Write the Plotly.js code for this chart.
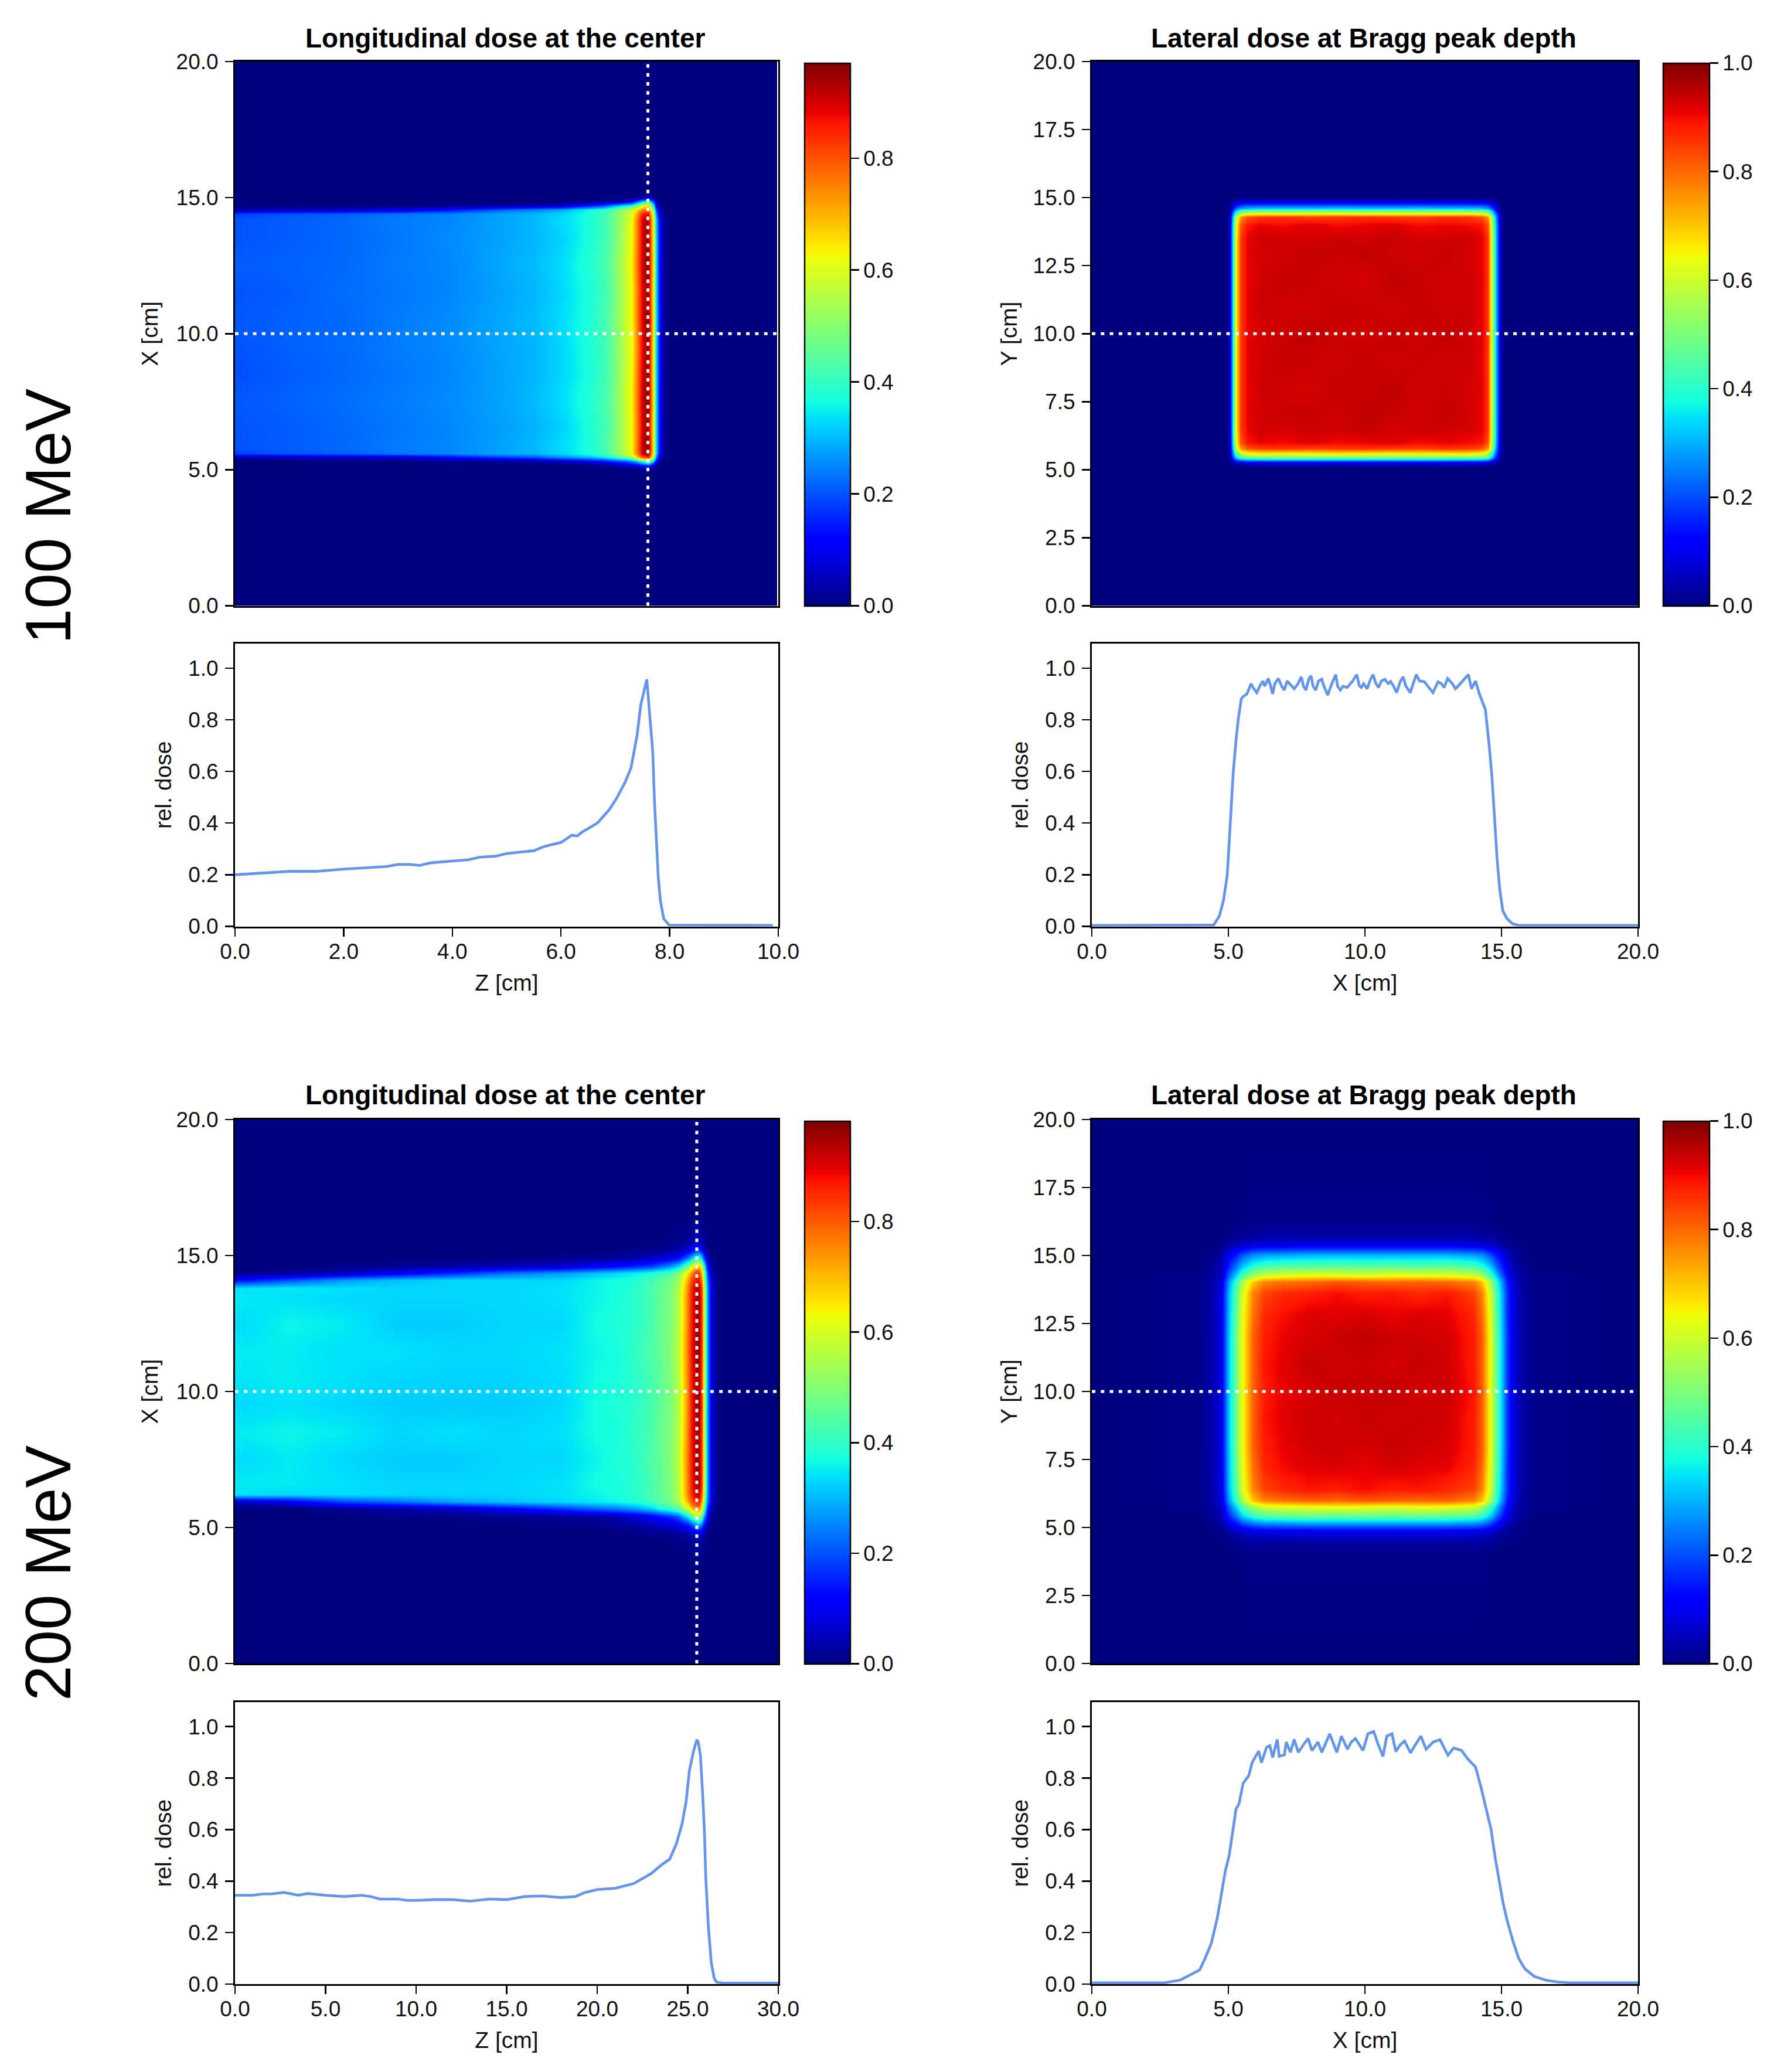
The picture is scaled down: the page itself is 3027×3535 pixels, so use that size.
<!DOCTYPE html>
<html><head><meta charset="utf-8"><script src="https://cdn.plot.ly/plotly-3.0.1.min.js"></script>
<style>html,body{margin:0;padding:0;background:#fff}</style></head><body><div id="g"></div>
<script>
// ---------- read-off data ----------
const energyLabels=['100 MeV','200 MeV'];
const titleLong='Longitudinal dose at the center', titleLat='Lateral dose at Bragg peak depth';
const peak100=7.6, peak200=25.5;

// longitudinal map, 100 MeV
const long100Z=[0,1,2,3,4,5,5.5,6,6.5,6.8,7,7.2,7.3,7.4,7.5,7.6,7.7,7.75,7.8,7.85,7.9,8,9.9,9.95];
const long100X=[0,4.8,5,5.15,5.3,5.45,5.6,5.8,6.5,7.5,8.5,9.5,10.5,11.5,12.5,13.5,14.2,14.4,14.55,14.7,14.85,15,15.2,20];
const long100Dose=[
[0,0,0,0,0,0,0,0,0,0,0,0,0,0,0,0,0,0,0,0,0,0,0,0],
[0,0,0,0,0,0,0,0,0,0,0,0,0,0,0,0,0,0,0,0,0,0,0,0],
[0,0,0,0,0,0,0,0,0,0,0,0,0,0,.01,.02,0,0,0,0,0,0,0,0],
[0,0,0,0,0,0,0,0,0,.02,.03,.06,.08,.09,.13,.18,.08,.02,0,0,0,0,0,0],
[0,0,0,0,.01,.02,.03,.05,.1,.13,.17,.2,.24,.3,.4,.5,.3,.12,.03,.01,0,0,0,0],
[.03,.05,.06,.07,.12,.18,.2,.25,.3,.34,.4,.47,.52,.68,.8,.85,.55,.28,.11,.05,.02,0,0,0],
[.18,.2,.21,.23,.25,.28,.29,.32,.37,.41,.48,.57,.63,.75,.9,.95,.62,.35,.15,.07,.02,0,0,0],
[.2,.21,.22,.24,.25,.28,.3,.33,.37,.42,.49,.57,.63,.76,.92,.96,.63,.36,.16,.07,.025,0,0,0],
[.2,.21,.22,.235,.25,.275,.29,.32,.37,.41,.48,.57,.63,.75,.9,.94,.62,.35,.16,.07,.025,0,0,0],
[.205,.215,.225,.24,.255,.28,.3,.33,.38,.42,.49,.58,.64,.76,.91,.96,.63,.36,.16,.07,.025,0,0,0],
[.195,.21,.22,.235,.25,.28,.295,.325,.37,.41,.48,.57,.63,.75,.9,.95,.62,.35,.16,.07,.025,0,0,0],
[.2,.213,.222,.24,.253,.282,.293,.325,.372,.41,.48,.57,.62,.74,.88,.955,.62,.35,.16,.07,.025,0,0,0],
[.205,.215,.22,.24,.255,.285,.3,.33,.375,.42,.49,.58,.63,.75,.9,.97,.63,.36,.17,.07,.025,0,0,0],
[.2,.21,.225,.235,.25,.28,.295,.325,.37,.41,.48,.57,.63,.75,.89,.94,.62,.35,.16,.07,.025,0,0,0],
[.21,.215,.22,.24,.25,.285,.3,.33,.38,.42,.49,.58,.64,.76,.91,.96,.63,.36,.16,.07,.025,0,0,0],
[.2,.21,.22,.235,.255,.28,.295,.32,.37,.41,.48,.57,.63,.75,.9,.95,.62,.35,.16,.07,.025,0,0,0],
[.2,.21,.22,.24,.25,.28,.3,.33,.37,.41,.48,.56,.62,.75,.9,.93,.6,.33,.14,.06,.02,0,0,0],
[.18,.2,.21,.23,.25,.28,.29,.32,.37,.41,.47,.56,.6,.72,.85,.88,.55,.28,.1,.04,.01,0,0,0],
[.03,.05,.06,.08,.14,.22,.25,.28,.36,.4,.46,.53,.57,.66,.75,.8,.48,.22,.06,.02,0,0,0,0],
[0,0,0,0,.01,.03,.04,.06,.15,.2,.29,.36,.4,.5,.6,.66,.35,.13,.03,.01,0,0,0,0],
[0,0,0,0,0,0,0,0,.01,.02,.03,.07,.1,.22,.33,.4,.2,.06,0,0,0,0,0,0],
[0,0,0,0,0,0,0,0,0,0,0,0,0,.01,.02,.05,.02,0,0,0,0,0,0,0],
[0,0,0,0,0,0,0,0,0,0,0,0,0,0,0,0,0,0,0,0,0,0,0,0],
[0,0,0,0,0,0,0,0,0,0,0,0,0,0,0,0,0,0,0,0,0,0,0,0]];

// lateral map, 100 MeV
const lat100X=[0,4.9,5,5.06,5.16,5.21,5.28,5.46,5.7,6.2,7,8,9,10,11,12,13,13.8,14.3,14.5,14.62,14.7,14.78,14.94,15,15.1,20];
const lat100Y=[0,5.1,5.26,5.37,5.46,5.58,5.78,6,6.5,7,8,9,10,11,12,13,13.5,14,14.29,14.4,14.5,14.6,14.83,14.95,15.05,20];
const lat100Dose=[
[0,0,0,0,0,0,0,0,0,0,0,0,0,0,0,0,0,0,0,0,0,0,0,0,0,0,0],
[0,0,0,0,0,0,0,0,0,0,0,0,0,0,0,0,0,0,0,0,0,0,0,0,0,0,0],
[0,0,0,.01,.03,.05,.065,.085,.09,.095,.095,.095,.095,.095,.095,.095,.095,.095,.09,.085,.065,.05,.03,.01,0,0,0],
[0,0,.01,.03,.11,.17,.22,.29,.32,.33,.33,.33,.34,.33,.33,.34,.33,.33,.32,.29,.22,.17,.11,.03,.01,0,0],
[0,0,.015,.05,.17,.27,.34,.45,.49,.5,.5,.51,.5,.5,.51,.5,.5,.5,.49,.45,.34,.27,.17,.05,.015,0,0],
[0,0,.02,.065,.22,.34,.44,.575,.63,.65,.64,.65,.66,.65,.64,.65,.65,.66,.63,.575,.44,.34,.22,.065,.02,0,0],
[0,0,.025,.085,.29,.45,.575,.75,.82,.85,.86,.84,.85,.86,.85,.84,.86,.85,.82,.75,.575,.45,.29,.085,.025,0,0],
[0,0,.03,.09,.32,.49,.63,.82,.89,.91,.9,.92,.9,.91,.92,.9,.91,.9,.89,.82,.63,.49,.32,.09,.03,0,0],
[0,0,.03,.095,.33,.5,.65,.85,.91,.93,.925,.935,.93,.94,.925,.935,.93,.925,.91,.85,.65,.5,.33,.095,.03,0,0],
[0,0,.03,.095,.33,.5,.65,.85,.915,.925,.935,.94,.93,.945,.935,.93,.94,.93,.91,.85,.65,.5,.33,.095,.03,0,0],
[0,0,.03,.095,.33,.5,.65,.85,.91,.935,.93,.925,.94,.935,.945,.93,.935,.925,.915,.85,.65,.5,.33,.095,.03,0,0],
[0,0,.03,.095,.33,.5,.65,.85,.915,.93,.94,.935,.93,.94,.93,.935,.93,.935,.91,.85,.65,.5,.33,.095,.03,0,0],
[0,0,.03,.095,.33,.5,.65,.85,.91,.925,.935,.945,.935,.93,.94,.93,.945,.93,.915,.85,.65,.5,.33,.095,.03,0,0],
[0,0,.03,.095,.33,.5,.65,.85,.915,.935,.93,.93,.94,.935,.93,.94,.93,.935,.91,.85,.65,.5,.33,.095,.03,0,0],
[0,0,.03,.095,.33,.5,.65,.85,.91,.93,.94,.935,.93,.925,.945,.935,.93,.93,.915,.85,.65,.5,.33,.095,.03,0,0],
[0,0,.03,.095,.33,.5,.65,.85,.915,.925,.93,.94,.935,.945,.93,.93,.94,.925,.91,.85,.65,.5,.33,.095,.03,0,0],
[0,0,.03,.095,.33,.5,.65,.85,.91,.935,.93,.925,.935,.93,.94,.925,.93,.935,.91,.85,.65,.5,.33,.095,.03,0,0],
[0,0,.03,.09,.32,.49,.63,.82,.89,.91,.9,.92,.9,.91,.92,.9,.91,.9,.89,.82,.63,.49,.32,.09,.03,0,0],
[0,0,.025,.085,.29,.45,.575,.75,.82,.85,.86,.84,.85,.86,.85,.84,.86,.85,.82,.75,.575,.45,.29,.085,.025,0,0],
[0,0,.02,.065,.22,.34,.44,.575,.63,.65,.64,.65,.66,.65,.64,.65,.65,.66,.63,.575,.44,.34,.22,.065,.02,0,0],
[0,0,.015,.05,.17,.27,.34,.45,.49,.5,.5,.51,.5,.5,.51,.5,.5,.5,.49,.45,.34,.27,.17,.05,.015,0,0],
[0,0,.01,.03,.11,.17,.22,.29,.32,.33,.33,.33,.34,.33,.33,.34,.33,.33,.32,.29,.22,.17,.11,.03,.01,0,0],
[0,0,0,.01,.03,.05,.065,.085,.09,.095,.095,.095,.095,.095,.095,.095,.095,.095,.09,.085,.065,.05,.03,.01,0,0,0],
[0,0,0,0,.005,.01,.015,.02,.025,.025,.025,.025,.025,.025,.025,.025,.025,.025,.025,.02,.015,.01,.005,0,0,0,0],
[0,0,0,0,0,0,0,0,0,0,0,0,0,0,0,0,0,0,0,0,0,0,0,0,0,0,0],
[0,0,0,0,0,0,0,0,0,0,0,0,0,0,0,0,0,0,0,0,0,0,0,0,0,0,0]];

// longitudinal map, 200 MeV
const long200Z=[0,3,6,9,12,15,18,20,21,22,23,23.5,24,24.5,25,25.2,25.4,25.6,25.75,25.9,26.1,26.3,26.6,27,30];
const long200X=[0,3.5,4.5,4.8,5.1,5.4,5.7,5.95,6.2,6.6,7.5,8.5,9.5,10.5,11.5,12.5,13.4,13.8,14.1,14.35,14.6,14.9,15.2,15.5,16.5,20];
const long200Dose=[
[0,0,0,0,0,0,0,0,0,0,0,0,0,0,0,0,0,0,0,0,0,0,0,0,0],
[0,0,0,0,0,0,0,0,0,0,0,0,0,0,0,0,0,0,0,0,0,0,0,0,0],
[0,0,0,0,0,0,0,0,0,0,0,0,0,.01,.01,.02,.03,.04,.025,.01,0,0,0,0,0],
[0,0,0,0,0,0,0,0,0,.01,.01,.02,.02,.03,.04,.06,.08,.1,.07,.04,.01,0,0,0,0],
[0,0,0,0,0,0,.01,.01,.02,.03,.05,.07,.07,.09,.15,.2,.26,.3,.24,.14,.04,.005,0,0,0],
[0,0,0,.01,.01,.02,.02,.03,.04,.07,.11,.14,.17,.22,.36,.44,.5,.55,.46,.29,.09,.02,0,0,0],
[0,0,.02,.03,.06,.11,.17,.22,.24,.27,.32,.37,.4,.45,.6,.68,.74,.77,.65,.44,.17,.05,.005,0,0],
[.05,.1,.19,.23,.28,.31,.33,.35,.36,.38,.42,.45,.48,.55,.72,.8,.85,.87,.75,.53,.23,.07,.01,0,0],
[.34,.33,.335,.33,.33,.33,.34,.36,.37,.39,.43,.46,.49,.56,.76,.85,.91,.93,.82,.59,.26,.08,.01,0,0],
[.35,.35,.34,.33,.33,.33,.34,.37,.37,.39,.43,.46,.49,.56,.77,.87,.93,.96,.85,.61,.27,.08,.01,0,0],
[.33,.35,.33,.32,.32,.33,.33,.36,.38,.39,.44,.46,.5,.57,.78,.87,.94,.96,.85,.62,.27,.08,.01,0,0],
[.35,.36,.35,.33,.34,.33,.34,.37,.37,.4,.43,.47,.49,.56,.77,.88,.93,.95,.85,.6,.27,.08,.01,0,0],
[.33,.34,.33,.32,.32,.32,.33,.37,.38,.39,.43,.46,.49,.56,.76,.87,.94,.97,.86,.61,.27,.08,.01,0,0],
[.345,.352,.34,.33,.328,.328,.336,.367,.372,.39,.43,.46,.49,.56,.77,.87,.93,.95,.85,.61,.27,.08,.01,0,0],
[.35,.35,.34,.34,.33,.33,.34,.36,.37,.4,.44,.46,.5,.57,.78,.88,.94,.98,.86,.62,.27,.08,.01,0,0],
[.33,.36,.35,.32,.32,.33,.33,.37,.38,.39,.43,.47,.49,.56,.77,.87,.93,.96,.85,.61,.27,.08,.01,0,0],
[.35,.34,.33,.33,.33,.33,.34,.36,.37,.39,.43,.46,.49,.56,.77,.87,.93,.96,.85,.61,.27,.08,.01,0,0],
[.34,.35,.34,.33,.33,.33,.34,.36,.37,.39,.43,.46,.49,.55,.76,.86,.92,.94,.84,.6,.26,.08,.01,0,0],
[.12,.2,.27,.31,.33,.33,.33,.36,.37,.38,.42,.45,.47,.54,.72,.82,.87,.89,.78,.55,.24,.07,.01,0,0],
[.01,.02,.05,.1,.16,.23,.27,.31,.33,.35,.39,.41,.43,.5,.66,.75,.82,.85,.72,.5,.2,.05,.01,0,0],
[0,0,.01,.02,.03,.05,.07,.11,.13,.16,.19,.23,.27,.34,.5,.6,.68,.72,.6,.4,.13,.03,.005,0,0],
[0,0,0,0,0,.005,.01,.02,.03,.04,.06,.08,.1,.14,.25,.32,.38,.42,.34,.2,.05,.01,0,0,0],
[0,0,0,0,0,0,0,0,0,.01,.01,.01,.025,.04,.08,.12,.16,.18,.13,.07,.01,0,0,0,0],
[0,0,0,0,0,0,0,0,0,0,0,0,.01,.01,.025,.035,.05,.06,.04,.015,0,0,0,0,0],
[0,0,0,0,0,0,0,0,0,0,0,0,0,0,0,0,0,0,0,0,0,0,0,0,0],
[0,0,0,0,0,0,0,0,0,0,0,0,0,0,0,0,0,0,0,0,0,0,0,0,0]];

// lateral map, 200 MeV
const lat200X=[0,3.9,4.4,4.75,5.03,5.25,5.5,5.9,6.3,7,8,9,10,11,12,13,14,14.3,14.6,14.8,15,15.2,15.4,15.7,16.2,20];
const lat200Y=[0,4.1,4.5,4.86,5.2,5.4,5.75,6,6.4,7.2,8,9,10,11,12,12.8,13.6,14.03,14.27,14.6,15,15.39,15.7,16.2,20];
const lat200Dose=[
[0,0,0,0,0,0,0,0,0,0,0,0,0,0,0,0,0,0,0,0,0,0,0,0,0,0],
[0,0,0,0,0,.005,.005,.01,.01,.01,.01,.01,.01,.01,.01,.01,.01,.01,.005,.005,0,0,0,0,0,0],
[0,0,0,.005,.01,.02,.025,.03,.035,.035,.037,.037,.037,.037,.037,.037,.035,.03,.025,.02,.01,.01,.005,0,0,0],
[0,0,.005,.01,.03,.05,.06,.08,.09,.09,.093,.093,.093,.093,.093,.093,.09,.08,.06,.05,.03,.02,.01,.005,0,0],
[0,0,.01,.03,.11,.15,.21,.27,.29,.3,.31,.31,.31,.31,.31,.31,.29,.27,.21,.15,.11,.06,.03,.01,0,0],
[0,0,.02,.05,.16,.23,.32,.4,.44,.46,.47,.46,.47,.46,.47,.46,.44,.4,.32,.23,.16,.09,.05,.02,0,0],
[0,.01,.025,.06,.22,.32,.43,.55,.6,.62,.63,.64,.63,.62,.64,.63,.6,.55,.43,.32,.22,.13,.06,.025,.01,0],
[0,.01,.03,.08,.28,.4,.55,.7,.77,.79,.81,.8,.82,.81,.8,.81,.77,.7,.55,.4,.28,.16,.08,.03,.01,0],
[0,.01,.035,.09,.31,.44,.6,.77,.84,.87,.89,.88,.9,.88,.89,.87,.84,.77,.6,.44,.31,.18,.09,.035,.01,0],
[0,.01,.035,.09,.32,.46,.62,.79,.87,.9,.915,.92,.91,.925,.915,.91,.87,.79,.62,.46,.32,.18,.09,.035,.01,0],
[0,.01,.04,.09,.33,.47,.63,.81,.88,.91,.93,.935,.925,.94,.93,.925,.88,.81,.63,.47,.33,.19,.09,.04,.01,0],
[0,.01,.04,.09,.33,.47,.63,.81,.89,.915,.935,.925,.94,.93,.935,.93,.88,.81,.63,.47,.33,.19,.09,.04,.01,0],
[0,.01,.04,.09,.33,.47,.63,.81,.88,.91,.925,.94,.935,.945,.925,.935,.89,.81,.63,.47,.33,.19,.09,.04,.01,0],
[0,.01,.04,.09,.33,.47,.63,.81,.89,.915,.94,.93,.935,.925,.94,.93,.88,.81,.63,.47,.33,.19,.09,.04,.01,0],
[0,.01,.04,.09,.33,.47,.63,.81,.88,.91,.925,.935,.945,.935,.93,.925,.88,.81,.63,.47,.33,.19,.09,.04,.01,0],
[0,.01,.035,.09,.32,.46,.62,.79,.87,.895,.92,.915,.925,.91,.92,.915,.87,.79,.62,.46,.32,.18,.09,.035,.01,0],
[0,.01,.035,.09,.31,.44,.6,.77,.84,.87,.88,.9,.88,.89,.87,.89,.84,.77,.6,.44,.31,.18,.09,.035,.01,0],
[0,.01,.03,.08,.28,.4,.55,.7,.77,.79,.8,.82,.81,.8,.81,.8,.77,.7,.55,.4,.28,.16,.08,.03,.01,0],
[0,.01,.025,.06,.22,.32,.43,.55,.6,.62,.64,.63,.62,.64,.63,.63,.6,.55,.43,.32,.22,.13,.06,.025,.01,0],
[0,0,.02,.05,.16,.23,.32,.4,.44,.46,.46,.47,.46,.47,.46,.47,.44,.4,.32,.23,.16,.09,.05,.02,0,0],
[0,0,.01,.03,.11,.15,.21,.27,.29,.3,.31,.31,.31,.31,.31,.31,.29,.27,.21,.15,.11,.06,.03,.01,0,0],
[0,0,.005,.01,.03,.05,.06,.08,.09,.09,.093,.093,.093,.093,.093,.093,.09,.08,.06,.05,.03,.02,.01,.005,0,0],
[0,0,0,.005,.01,.02,.025,.03,.035,.035,.037,.037,.037,.037,.037,.037,.035,.03,.025,.02,.01,.01,.005,0,0,0],
[0,0,0,0,0,.005,.005,.01,.01,.01,.01,.01,.01,.01,.01,.01,.01,.01,.005,.005,0,0,0,0,0,0],
[0,0,0,0,0,0,0,0,0,0,0,0,0,0,0,0,0,0,0,0,0,0,0,0,0,0]];

// profiles under the maps
const prof100Z=[0,.5,1,1.5,2,2.5,2.8,3,3.2,3.4,3.6,4,4.3,4.5,4.8,5,5.3,5.5,5.7,6,6.2,6.3,6.38,6.67,6.89,7.03,7.18,7.29,7.4,7.47,7.58,7.65,7.69,7.72,7.76,7.79,7.83,7.89,7.99,9.9];
const prof100D=[.2,.207,.213,.213,.222,.228,.232,.24,.24,.236,.246,.253,.258,.268,.272,.282,.29,.293,.31,.325,.353,.35,.364,.4,.452,.498,.558,.614,.739,.859,.956,.767,.674,.489,.304,.193,.1,.03,.005,.004];
const prof100LatX=[0,4.46,4.67,4.82,4.96,5.03,5.1,5.18,5.28,5.36,5.47,5.54,5.68,5.83,5.9,6.04,6.15,6.26,6.33,6.46,6.55,6.62,6.7,6.83,6.95,7.05,7.15,7.27,7.41,7.55,7.67,7.75,7.84,7.95,8.03,8.1,8.2,8.3,8.42,8.5,8.64,8.75,8.93,9,9.1,9.2,9.35,9.55,9.7,9.8,9.87,9.95,10.08,10.2,10.3,10.4,10.5,10.6,10.73,10.85,10.94,11.05,11.16,11.3,11.4,11.5,11.66,11.8,11.88,12,12.18,12.3,12.49,12.6,12.68,12.8,12.9,13.03,13.2,13.32,13.5,13.79,13.9,14.05,14.19,14.26,14.41,14.55,14.65,14.74,14.84,14.94,15.05,15.2,15.41,15.63,20];
const prof100LatD=[.004,.005,.04,.1,.2,.33,.47,.6,.72,.8,.88,.89,.9,.94,.925,.905,.93,.95,.93,.96,.93,.9,.94,.96,.93,.915,.95,.937,.92,.94,.966,.93,.915,.96,.97,.93,.915,.95,.957,.93,.895,.93,.975,.93,.915,.93,.925,.95,.975,.93,.925,.94,.92,.955,.975,.94,.925,.95,.957,.94,.948,.93,.905,.95,.966,.93,.905,.95,.975,.95,.947,.93,.905,.93,.947,.94,.925,.96,.94,.92,.94,.975,.92,.95,.9,.88,.84,.7,.58,.43,.26,.14,.06,.03,.01,.004,.004];
const prof200Z=[0,1,1.5,2,2.7,3,3.5,4,4.5,5,6,7,7.5,8,9,9.5,10,11,12,13,14,15,16,17,18,18.8,19.3,20,21,21.5,22,22.5,23,23.5,24,24.36,24.68,24.9,25.1,25.33,25.42,25.5,25.58,25.7,25.83,25.92,26,26.14,26.3,26.46,26.6,27,30];
const prof200D=[.345,.345,.35,.35,.356,.352,.345,.352,.348,.345,.34,.345,.34,.33,.33,.325,.325,.328,.328,.322,.33,.328,.34,.342,.336,.34,.355,.367,.372,.38,.39,.41,.43,.46,.485,.542,.62,.704,.833,.907,.935,.949,.94,.889,.73,.593,.407,.222,.083,.023,.007,.004,.004];
const prof200LatX=[0,2.65,3.23,3.66,3.95,4.17,4.38,4.6,4.74,4.89,5.03,5.18,5.28,5.39,5.54,5.75,5.87,6.11,6.21,6.4,6.52,6.62,6.79,6.86,7.05,7.12,7.27,7.41,7.56,7.75,7.92,8.06,8.28,8.42,8.55,8.71,8.97,9.14,9.36,9.5,9.65,9.93,10.11,10.32,10.47,10.66,10.8,10.99,11.13,11.3,11.45,11.67,11.85,12.05,12.24,12.5,12.75,13.04,13.25,13.54,13.76,14.05,14.26,14.48,14.62,14.77,14.91,15.05,15.2,15.41,15.63,15.85,16.2,16.64,17.07,17.5,20];
const prof200LatD=[.005,.005,.015,.04,.055,.105,.16,.26,.34,.44,.5,.6,.68,.7,.78,.81,.86,.905,.86,.92,.926,.88,.95,.885,.89,.94,.9,.95,.9,.93,.954,.907,.94,.9,.93,.972,.9,.963,.912,.94,.954,.907,.972,.981,.935,.884,.963,.972,.903,.93,.944,.898,.93,.963,.912,.94,.949,.889,.917,.907,.875,.843,.76,.66,.6,.49,.4,.32,.25,.17,.1,.06,.03,.015,.008,.005,.005];

const heatTicksY=[0,5,10,15,20];
const heatTicksYLabels=['0.0','5.0','10.0','15.0','20.0'];
const latTicksY=[0,2.5,5,7.5,10,12.5,15,17.5,20];
const latTicksYLabels=['0.0','2.5','5.0','7.5','10.0','12.5','15.0','17.5','20.0'];
const relTicks=[0,.2,.4,.6,.8,1];
const relTickLabels=['0.0','0.2','0.4','0.6','0.8','1.0'];
const depth100Ticks=[0,2,4,6,8,10], depth100Labels=['0.0','2.0','4.0','6.0','8.0','10.0'];
const depth200Ticks=[0,5,10,15,20,25,30], depth200Labels=['0.0','5.0','10.0','15.0','20.0','25.0','30.0'];
const latTicksX=[0,5,10,15,20], latTicksXLabels=['0.0','5.0','10.0','15.0','20.0'];
const cbTicksA=[0,.2,.4,.6,.8], cbLabelsA=['0.0','0.2','0.4','0.6','0.8'];
const cbTicksB=[0,.2,.4,.6,.8,1], cbLabelsB=['0.0','0.2','0.4','0.6','0.8','1.0'];

// ---------- styles ----------
const W=3027,H=3535,FONT='"Liberation Sans",Arial,sans-serif',INK='#111';
const jet=[[0,'rgb(0,0,127)'],[.11,'rgb(0,0,255)'],[.125,'rgb(0,0,255)'],[.34,'rgb(0,219,255)'],[.35,'rgb(0,229,247)'],[.375,'rgb(20,255,226)'],[.64,'rgb(238,255,8)'],[.65,'rgb(247,245,0)'],[.66,'rgb(255,236,0)'],[.89,'rgb(255,19,0)'],[.91,'rgb(232,0,0)'],[1,'rgb(127,0,0)']];
const fx=p=>p/W, fy=p=>1-p/H;
const colsHeat=[[401,1328],[1863,2795]], colsBar=[[1373,78],[2838,79]];
const rowsHeat=[[105,1033.5],[1910,2838]], rowsProf=[[1098,1580.5],[2904,3385]];
const axisBase={showline:true,mirror:true,linecolor:'#000',linewidth:3,ticks:'outside',ticklen:14,tickwidth:2.5,tickcolor:'#000',showgrid:false,zeroline:false,tickfont:{family:FONT,size:37,color:INK},automargin:false};
function ax(o){return Object.assign({},axisBase,o);}
function arr(t,l){return {tickmode:'array',tickvals:t,ticktext:l};}
const tFont={family:FONT,size:39,color:INK};

const traces=[], layout={width:W,height:H,margin:{l:0,r:0,t:0,b:0},paper_bgcolor:'#fff',plot_bgcolor:'#fff',showlegend:false,annotations:[]};

function heat(i,col,row,xs,ys,z,zmax,xmax,yTicks,yLabels,yName,cbT,cbL){
  const n=i===1?'':i;
  traces.push({type:'heatmap',x:xs,y:ys,z:z,xaxis:'x'+n,yaxis:'y'+n,zmin:0,zmax:zmax,zsmooth:'best',colorscale:jet,hoverinfo:'skip',
    colorbar:{x:fx(colsBar[col][0]),xanchor:'left',y:fy(rowsHeat[row][0]+2.5),yanchor:'top',lenmode:'pixels',len:rowsHeat[row][1]-rowsHeat[row][0]-2.5,thicknessmode:'pixels',thickness:colsBar[col][1],xpad:0,ypad:0,outlinewidth:2.5,outlinecolor:'#000',ticks:'outside',ticklen:14,tickwidth:2.5,tickcolor:'#000',tickmode:'array',tickvals:cbT,ticktext:cbL,tickfont:{family:FONT,size:37,color:INK}}});
  layout['xaxis'+n]=ax({domain:[fx(colsHeat[col][0]),fx(colsHeat[col][1])],range:[0,xmax],ticks:'',showticklabels:false,anchor:'y'+n});
  layout['yaxis'+n]=ax(Object.assign({domain:[fy(rowsHeat[row][1]),fy(rowsHeat[row][0])],range:[0,20],anchor:'x'+n,ticklabelstandoff:4,title:{text:yName,font:tFont,standoff:yName==='Y [cm]'?15:19}},arr(yTicks,yLabels)));
}
function prof(i,col,row,xs,ys,xmax,xT,xL,xName){
  const n=i;
  traces.push({type:'scatter',mode:'lines',x:xs,y:ys,xaxis:'x'+n,yaxis:'y'+n,line:{color:'#6495ED',width:4.6},hoverinfo:'skip'});
  layout['xaxis'+n]=ax(Object.assign({domain:[fx(colsHeat[col][0]),fx(colsHeat[col][1])],range:[0,xmax],anchor:'y'+n,ticklabelstandoff:-6,title:{text:xName,font:tFont,standoff:20}},arr(xT,xL)));
  layout['yaxis'+n]=ax(Object.assign({domain:[fy(rowsProf[row][1]),fy(rowsProf[row][0])],range:[0,1.095],anchor:'x'+n,ticklabelstandoff:4,title:{text:'rel. dose',font:tFont,standoff:17}},arr(relTicks,relTickLabels)));
}
function dots(i,xs,ys){
  traces.push({type:'scatter',mode:'lines',x:xs,y:ys,xaxis:'x'+(i===1?'':i),yaxis:'y'+(i===1?'':i),line:{color:'#fff',width:5,dash:'6px,9.3px'},hoverinfo:'skip'});
}

heat(1,0,0,long100Z,long100X,long100Dose,.97,10,heatTicksY,heatTicksYLabels,'X [cm]',cbTicksA,cbLabelsA);
heat(2,1,0,lat100X,lat100Y,lat100Dose,1,20,latTicksY,latTicksYLabels,'Y [cm]',cbTicksB,cbLabelsB);
heat(3,0,1,long200Z,long200X,long200Dose,.982,30,heatTicksY,heatTicksYLabels,'X [cm]',cbTicksA,cbLabelsA);
heat(4,1,1,lat200X,lat200Y,lat200Dose,1,20,latTicksY,latTicksYLabels,'Y [cm]',cbTicksB,cbLabelsB);
dots(1,[0,10],[10,10]); dots(1,[peak100,peak100],[0,20]);
dots(2,[0,20],[10,10]);
dots(3,[0,30],[10,10]); dots(3,[peak200,peak200],[0,20]);
dots(4,[0,20],[10,10]);
prof(5,0,0,prof100Z,prof100D,10,depth100Ticks,depth100Labels,'Z [cm]');
prof(6,1,0,prof100LatX,prof100LatD,20,latTicksX,latTicksXLabels,'X [cm]');
prof(7,0,1,prof200Z,prof200D,30,depth200Ticks,depth200Labels,'Z [cm]');
prof(8,1,1,prof200LatX,prof200LatD,20,latTicksX,latTicksXLabels,'X [cm]');

function note(text,px,py,size,bold,angle){
  layout.annotations.push({xref:'paper',yref:'paper',x:fx(px),y:fy(py),xanchor:'center',yanchor:'middle',showarrow:false,text:bold?'<b>'+text+'</b>':text,textangle:angle||0,font:{family:FONT,size:size,color:'#000'}});
}
[65,1868].forEach(y=>{note(titleLong,862,y,46,true);note(titleLat,2327,y,46,true);});
note(energyLabels[0],82,881,109,false,-90);
note(energyLabels[1],82,2684,109,false,-90);

Plotly.newPlot('g',traces,layout,{staticPlot:true,displayModeBar:false});
</script></body></html>
